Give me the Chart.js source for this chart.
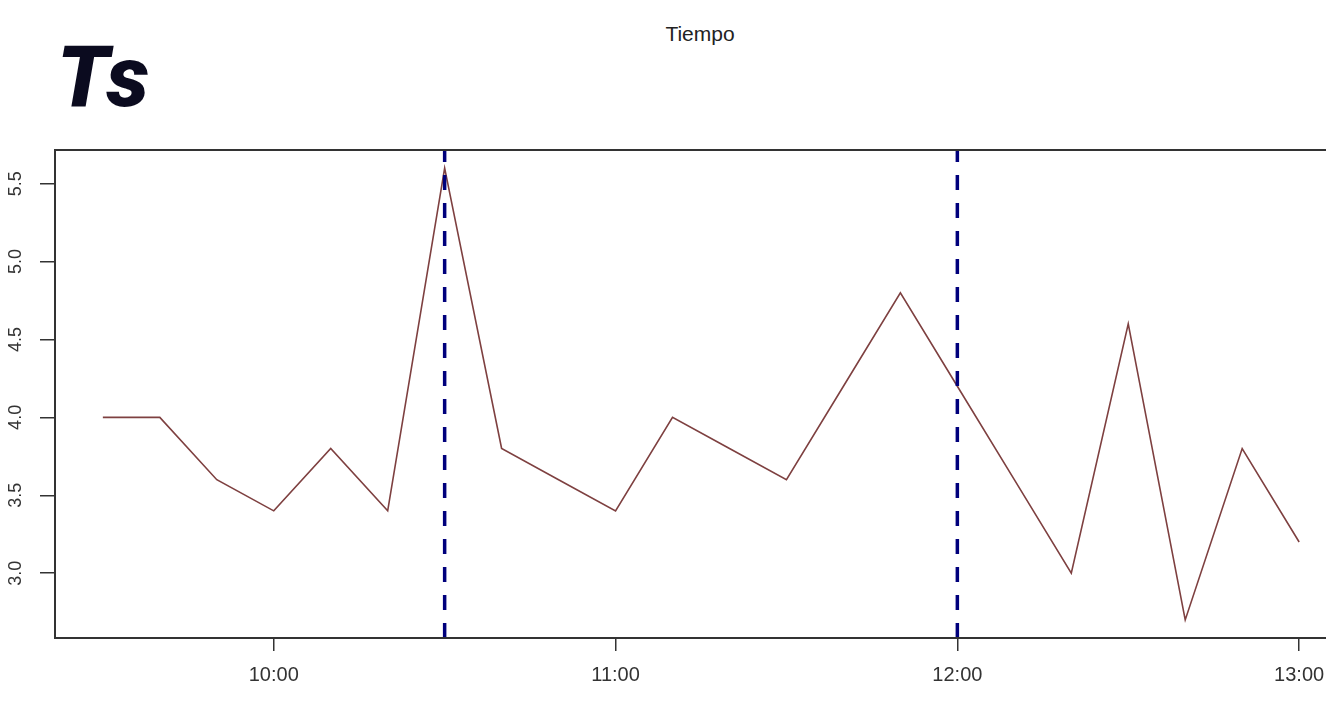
<!DOCTYPE html>
<html>
<head>
<meta charset="utf-8">
<script src="https://cdn.jsdelivr.net/npm/chart.js@4.4.1/dist/chart.umd.min.js"></script>
<style>
html,body{margin:0;padding:0;background:#fff;overflow:hidden;width:1326px;height:709px;}
#c{position:absolute;left:0;top:0;}
#title{position:absolute;left:57px;top:35px;margin:0;font:italic 900 85px Roboto, "DejaVu Sans", sans-serif;color:#0b0b1f;line-height:1;letter-spacing:1px;}
#xlab{position:absolute;left:700px;top:21px;transform:translateX(-50%);font:21px "Liberation Sans", Arial, sans-serif;color:#222;line-height:1.2;}
</style>
</head>
<body>
<div id="title">Ts</div>
<div id="xlab">Tiempo</div>
<canvas id="c" width="1352" height="709"></canvas>
<script>
// ---- data ----
const times = ['9:30','9:40','9:50','10:00','10:10','10:20','10:30','10:40','10:50','11:00','11:10',
               '11:20','11:30','11:40','11:50','12:00','12:10','12:20','12:30','12:40','12:50','13:00'];
const tsValues = [4.0,4.0,3.6,3.4,3.8,3.4,5.6,3.8,3.6,3.4,4.0,3.8,3.6,4.2,4.8,4.2,3.6,3.0,4.6,2.7,3.8,3.2];
const markerTimes = ['10:30','12:00'];
const xTickLabels = ['10:00','11:00','12:00','13:00'];
const yTickValues = [3.0,3.5,4.0,4.5,5.0,5.5];

const toMin = s => { const [h,m] = s.split(':').map(Number); return h*60+m; };
const xs = times.map(toMin);
const dataMin = Math.min(...tsValues), dataMax = Math.max(...tsValues);
const yPad = (dataMax - dataMin) * 0.04;
const yMin = dataMin - yPad, yMax = dataMax + yPad;
const xPad = (xs[xs.length-1] - xs[0]) * 0.04;
const xMin = xs[0] - xPad, xMax = xs[xs.length-1] + xPad;

const fmt = v => { const h = Math.floor(v/60), m = Math.round(v%60); return h + ':' + String(m).padStart(2,'0'); };

const datasets = [{
  data: xs.map((x,i) => ({x, y: tsValues[i]})),
  borderColor: '#7e4040',
  borderWidth: 1.6,
  pointRadius: 0,
  tension: 0,
  order: 2
}];
markerTimes.forEach(t => datasets.push({
  data: [{x: toMin(t), y: yMin}, {x: toMin(t), y: yMax}],
  borderColor: '#00007c',
  borderWidth: 3.5,
  borderDash: [15, 13],
  pointRadius: 0,
  order: 1
}));

const boxPlugin = {
  id: 'box',
  afterDraw(chart) {
    const {ctx, chartArea: a, scales} = chart;
    ctx.save();
    ctx.strokeStyle = '#333';
    ctx.lineWidth = 2;
    ctx.strokeRect(a.left, a.top, a.right - a.left, a.bottom - a.top);
    // rotated y tick labels
    ctx.fillStyle = '#333';
    ctx.font = '18px "Liberation Sans", Arial, sans-serif';
    ctx.textAlign = 'center';
    ctx.textBaseline = 'middle';
    scales.y.ticks.forEach(t => {
      const py = scales.y.getPixelForValue(t.value);
      ctx.save();
      ctx.translate(16, py);
      ctx.rotate(-Math.PI/2);
      ctx.fillText(t.value.toFixed(1), 0, 0);
      ctx.restore();
    });
    ctx.restore();
  }
};

new Chart(document.getElementById('c'), {
  type: 'line',
  data: { datasets },
  options: {
    responsive: false,
    animation: false,
    devicePixelRatio: 1,
    layout: { padding: { left: 0, top: 150, right: 5, bottom: 0 } },
    plugins: { legend: { display: false }, tooltip: { enabled: false } },
    scales: {
      x: {
        type: 'linear',
        min: xMin, max: xMax,
        afterBuildTicks: s => { s.ticks = xTickLabels.map(l => ({value: toMin(l)})); },
        afterFit: s => { s.height = 71; },
        grid: { drawOnChartArea: false, drawTicks: true, tickLength: 13, color: '#333', lineWidth: 1.5 },
        border: { display: false },
        ticks: { callback: v => fmt(v), color: '#333', font: { size: 20, family: '"Liberation Sans", Arial, sans-serif' }, padding: 12, maxRotation: 0, autoSkip: false }
      },
      y: {
        type: 'linear',
        min: yMin, max: yMax,
        afterBuildTicks: s => { s.ticks = yTickValues.map(v => ({value: v})); },
        afterFit: s => { s.width = 55; },
        grid: { drawOnChartArea: false, drawTicks: true, tickLength: 15, color: '#333', lineWidth: 1.5 },
        border: { display: false },
        ticks: { display: false }
      }
    }
  },
  plugins: [boxPlugin]
});
</script>
</body>
</html>
